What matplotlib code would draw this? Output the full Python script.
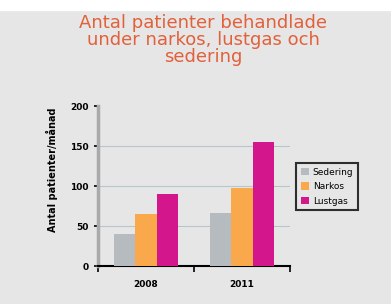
import numpy as np
import matplotlib.pyplot as plt

# data
years = ['2008', '2011']
sedering = [40, 66]
narkos = [65, 97]
lustgas = [90, 155]

bg = '#e6e6e6'
fig = plt.figure(figsize=(3.91, 3.04), dpi=100, facecolor=bg)
ax = fig.add_axes([98/391, 1 - 266/304, 192/391, 160/304])
ax.set_facecolor(bg)

x = np.arange(len(years))
w = 0.22
ax.bar(x - w, sedering, w, color='#b6bbc0', label='Sedering', zorder=3)
ax.bar(x, narkos, w, color='#f9a94b', label='Narkos', zorder=3)
ax.bar(x + w, lustgas, w, color='#d3168c', label='Lustgas', zorder=3)

ax.set_xlim(-0.5, 1.5)
ax.set_ylim(0, 200)
ax.set_yticks([0, 50, 100, 150, 200])
ax.set_yticklabels(['0', '50', '100', '150', '200'], fontweight='bold')
ax.set_xticks(x)
ax.set_xticklabels(years, fontweight='bold')
ax.set_xticks([-0.5, 0.5, 1.5], minor=True)
ax.tick_params(axis='x', which='major', length=0, labelsize=6.5, pad=10)
ax.tick_params(axis='x', which='minor', length=4, width=1.2, direction='out')
ax.tick_params(axis='y', labelsize=6.5, length=3, width=1.2, direction='out', pad=4)
ax.yaxis.grid(True, color='#b8c4cc', linewidth=0.8, zorder=0)
ax.yaxis.get_gridlines()[-1].set_visible(False)

for s in ['top', 'right']:
    ax.spines[s].set_visible(False)
ax.spines['left'].set_color('#a9a9a9')
ax.spines['left'].set_linewidth(2.5)
ax.spines['bottom'].set_color('black')
ax.spines['bottom'].set_linewidth(1.5)

ax.set_ylabel('Antal patienter/månad', fontsize=7, fontweight='bold')
ax.yaxis.set_label_coords(-0.21, 0.6)

leg = ax.legend(loc='upper left', bbox_to_anchor=(1.01, 0.67), fontsize=6.5,
                frameon=True, fancybox=False, handlelength=0.9, handleheight=0.9,
                handletextpad=0.4, borderpad=0.5, labelspacing=0.6)
leg.get_frame().set_edgecolor('black')
leg.get_frame().set_linewidth(1.5)
leg.get_frame().set_facecolor(bg)

fig.text(0.52, 0.955, 'Antal patienter behandlade\nunder narkos, lustgas och\nsedering',
         ha='center', va='top', fontsize=13, color='#e2603a', linespacing=0.95)

# thin white strip at the top
fig.patches.append(plt.Rectangle((0, 1 - 10/304), 1, 10/304, transform=fig.transFigure,
                                 color='white', zorder=0))

plt.savefig('out.png', dpi=100, facecolor=bg)
